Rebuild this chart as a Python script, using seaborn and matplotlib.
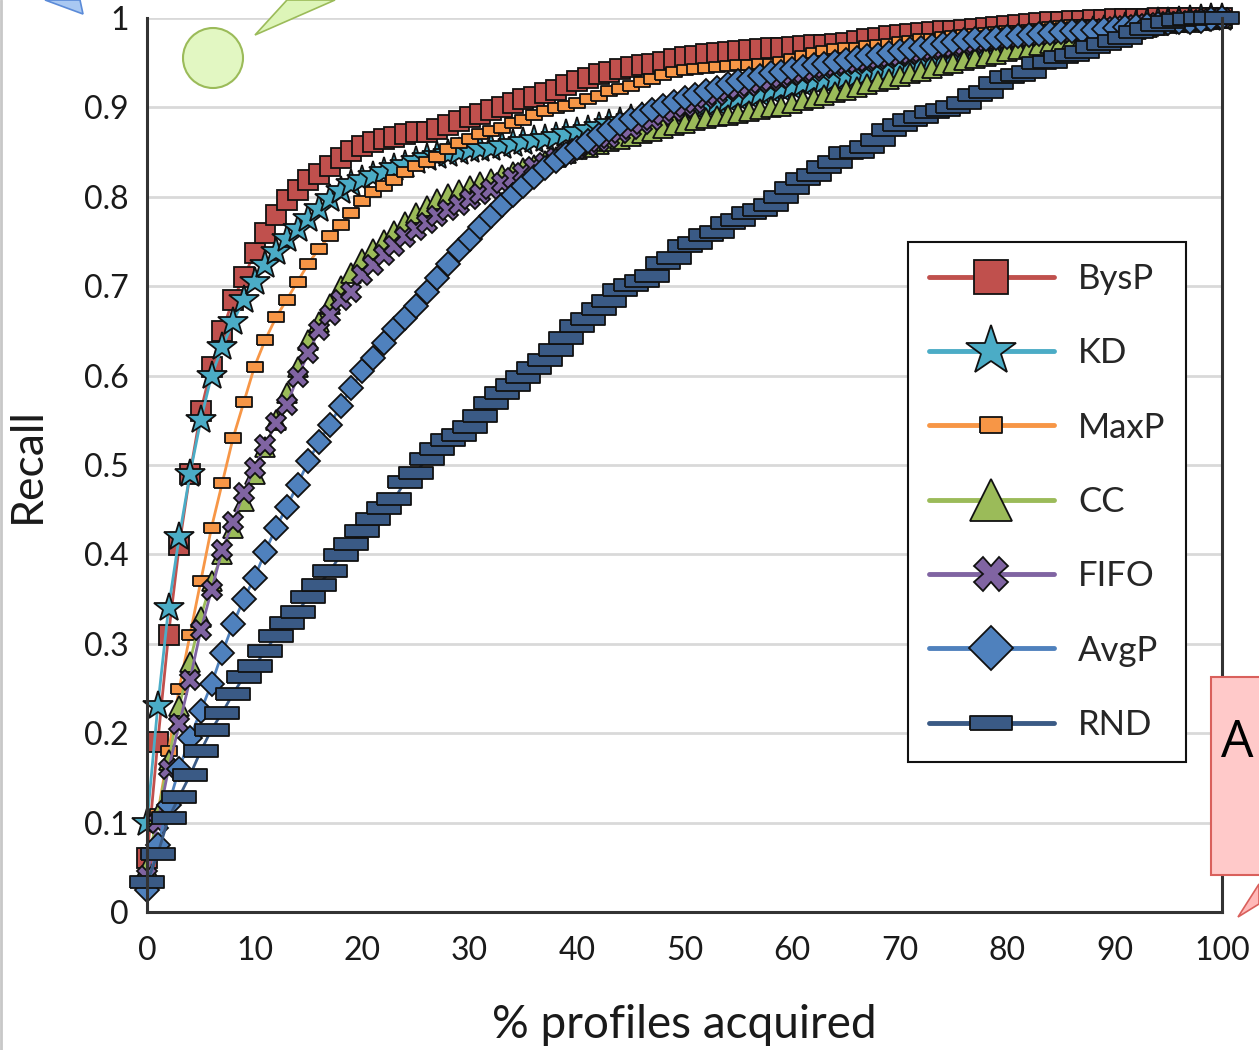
import numpy as np
import pandas as pd
import matplotlib
matplotlib.use("Agg")
import matplotlib.pyplot as plt
import seaborn as sns
from matplotlib.lines import Line2D
from matplotlib.patches import Polygon, Circle, Rectangle

# ---- data (recall vs % profiles acquired) ----
pct = list(range(0, 101))

bysp = [0.06, 0.19, 0.31, 0.41, 0.49, 0.56, 0.61, 0.65, 0.685, 0.71,
        0.737, 0.76, 0.78, 0.796, 0.808, 0.819, 0.826, 0.835, 0.843, 0.851,
        0.857, 0.861, 0.865, 0.867, 0.870, 0.872, 0.873, 0.876, 0.880, 0.885,
        0.889, 0.893, 0.897, 0.901, 0.905, 0.909, 0.912, 0.916, 0.920, 0.925,
        0.929, 0.933, 0.937, 0.940, 0.943, 0.945, 0.947, 0.949, 0.951, 0.954,
        0.956, 0.958, 0.960, 0.961, 0.962, 0.963, 0.964, 0.965, 0.966, 0.967,
        0.968, 0.969, 0.970, 0.970, 0.971, 0.972, 0.974, 0.976, 0.978, 0.980,
        0.981, 0.982, 0.983, 0.984, 0.985, 0.986, 0.987, 0.988, 0.989, 0.990,
        0.991, 0.992, 0.993, 0.994, 0.995, 0.996, 0.997, 0.997, 0.998, 0.998,
        0.999, 0.999, 0.999, 0.999, 1.0, 1.0, 1.0, 1.0, 1.0, 1.0, 1.0]

kd = [0.10, 0.23, 0.34, 0.42, 0.49, 0.55, 0.60, 0.632, 0.66, 0.685,
      0.705, 0.724, 0.738, 0.753, 0.764, 0.775, 0.786, 0.797, 0.806, 0.814,
      0.819, 0.823, 0.828, 0.832, 0.836, 0.840, 0.843, 0.846, 0.848, 0.850,
      0.852, 0.854, 0.855, 0.857, 0.859, 0.861, 0.863, 0.865, 0.867, 0.870,
      0.872, 0.875, 0.878, 0.881, 0.884, 0.887, 0.889, 0.891, 0.894, 0.896,
      0.898, 0.900, 0.903, 0.905, 0.908, 0.910, 0.913, 0.915, 0.918, 0.921,
      0.923, 0.926, 0.928, 0.930, 0.932, 0.934, 0.936, 0.938, 0.941, 0.943,
      0.945, 0.948, 0.950, 0.953, 0.955, 0.958, 0.960, 0.962, 0.965, 0.967,
      0.969, 0.971, 0.973, 0.975, 0.977, 0.979, 0.981, 0.983, 0.985, 0.987,
      0.988, 0.990, 0.992, 0.994, 0.995, 0.996, 0.997, 0.998, 0.999, 1.0, 1.0]

maxp = [0.04, 0.11, 0.18, 0.25, 0.31, 0.37, 0.43, 0.48, 0.53, 0.57,
        0.61, 0.64, 0.665, 0.685, 0.705, 0.725, 0.742, 0.756, 0.768, 0.782,
        0.795, 0.805, 0.812, 0.819, 0.828, 0.834, 0.839, 0.845, 0.853, 0.860,
        0.865, 0.870, 0.874, 0.877, 0.882, 0.886, 0.891, 0.896, 0.899, 0.902,
        0.905, 0.909, 0.913, 0.918, 0.921, 0.924, 0.928, 0.932, 0.936, 0.940,
        0.942, 0.943, 0.944, 0.945, 0.946, 0.947, 0.947, 0.948, 0.949, 0.951,
        0.954, 0.957, 0.961, 0.963, 0.965, 0.966, 0.967, 0.969, 0.970, 0.971,
        0.973, 0.974, 0.976, 0.977, 0.979, 0.980, 0.981, 0.982, 0.983, 0.984,
        0.985, 0.986, 0.987, 0.988, 0.990, 0.991, 0.992, 0.992, 0.992, 0.992,
        0.993, 0.994, 0.996, 0.997, 0.998, 0.998, 0.999, 0.999, 1.0, 1.0, 1.0]

cc = [0.05, 0.11, 0.17, 0.23, 0.28, 0.33, 0.37, 0.40, 0.43, 0.46,
      0.49, 0.52, 0.55, 0.58, 0.61, 0.64, 0.66, 0.68, 0.70, 0.715,
      0.73, 0.742, 0.752, 0.762, 0.772, 0.782, 0.790, 0.797, 0.803, 0.808,
      0.812, 0.816, 0.820, 0.824, 0.828, 0.832, 0.836, 0.840, 0.845, 0.849,
      0.853, 0.856, 0.859, 0.862, 0.865, 0.868, 0.871, 0.874, 0.877, 0.880,
      0.883, 0.886, 0.888, 0.890, 0.892, 0.894, 0.896, 0.898, 0.900, 0.902,
      0.905, 0.908, 0.911, 0.914, 0.917, 0.920, 0.923, 0.926, 0.929, 0.932,
      0.935, 0.938, 0.941, 0.944, 0.947, 0.950, 0.953, 0.955, 0.958, 0.960,
      0.963, 0.965, 0.967, 0.970, 0.972, 0.974, 0.976, 0.978, 0.980, 0.982,
      0.984, 0.986, 0.988, 0.990, 0.992, 0.994, 0.995, 0.996, 0.998, 0.999, 1.0]

fifo = [0.04, 0.10, 0.16, 0.21, 0.26, 0.315, 0.36, 0.405, 0.436, 0.469,
        0.497, 0.522, 0.547, 0.567, 0.598, 0.625, 0.651, 0.668, 0.685, 0.694,
        0.713, 0.724, 0.735, 0.745, 0.755, 0.763, 0.771, 0.778, 0.785, 0.791,
        0.797, 0.803, 0.809, 0.815, 0.821, 0.827, 0.833, 0.838, 0.843, 0.848,
        0.853, 0.857, 0.861, 0.866, 0.871, 0.876, 0.881, 0.886, 0.891, 0.896,
        0.900, 0.905, 0.910, 0.914, 0.918, 0.921, 0.924, 0.927, 0.930, 0.933,
        0.936, 0.939, 0.941, 0.944, 0.946, 0.948, 0.950, 0.952, 0.954, 0.956,
        0.958, 0.960, 0.962, 0.964, 0.966, 0.968, 0.970, 0.972, 0.974, 0.976,
        0.978, 0.979, 0.980, 0.981, 0.982, 0.983, 0.984, 0.985, 0.987, 0.988,
        0.990, 0.991, 0.992, 0.993, 0.994, 0.995, 0.996, 0.997, 0.998, 0.999, 1.0]

avgp = [0.025, 0.075, 0.12, 0.16, 0.195, 0.225, 0.255, 0.29, 0.322, 0.35,
        0.374, 0.403, 0.43, 0.453, 0.478, 0.504, 0.526, 0.545, 0.566, 0.586,
        0.605, 0.62, 0.637, 0.652, 0.664, 0.678, 0.694, 0.709, 0.725, 0.74,
        0.753, 0.766, 0.779, 0.791, 0.802, 0.812, 0.822, 0.832, 0.840, 0.848,
        0.855, 0.862, 0.869, 0.875, 0.881, 0.887, 0.892, 0.897, 0.902, 0.906,
        0.910, 0.914, 0.918, 0.922, 0.926, 0.929, 0.932, 0.935, 0.938, 0.940,
        0.943, 0.945, 0.947, 0.949, 0.951, 0.953, 0.955, 0.957, 0.959, 0.961,
        0.963, 0.965, 0.967, 0.969, 0.971, 0.973, 0.975, 0.976, 0.977, 0.978,
        0.979, 0.980, 0.981, 0.982, 0.983, 0.984, 0.985, 0.986, 0.987, 0.988,
        0.989, 0.990, 0.991, 0.992, 0.993, 0.994, 0.995, 0.996, 0.997, 0.999, 1.0]

rnd = [0.033, 0.065, 0.105, 0.129, 0.153, 0.18, 0.204, 0.223, 0.244, 0.263,
       0.275, 0.292, 0.309, 0.323, 0.336, 0.352, 0.366, 0.381, 0.399, 0.412,
       0.426, 0.44, 0.452, 0.462, 0.481, 0.491, 0.507, 0.518, 0.528, 0.534,
       0.543, 0.555, 0.569, 0.58, 0.589, 0.598, 0.608, 0.617, 0.629, 0.642,
       0.655, 0.663, 0.674, 0.684, 0.696, 0.701, 0.706, 0.711, 0.726, 0.732,
       0.745, 0.748, 0.757, 0.761, 0.771, 0.774, 0.782, 0.785, 0.791, 0.80,
       0.81, 0.82, 0.824, 0.833, 0.839, 0.849, 0.85, 0.856, 0.864, 0.875,
       0.88, 0.886, 0.889, 0.895, 0.897, 0.90, 0.905, 0.914, 0.917, 0.927,
       0.934, 0.936, 0.94, 0.95, 0.951, 0.956, 0.959, 0.962, 0.968, 0.971,
       0.974, 0.978, 0.984, 0.988, 0.992, 0.995, 0.998, 0.999, 1.0, 1.0, 1.0]

series_names = ["BysP", "KD", "MaxP", "CC", "FIFO", "AvgP", "RND"]
series_values = [bysp, kd, maxp, cc, fifo, avgp, rnd]

x_ticks = [0, 10, 20, 30, 40, 50, 60, 70, 80, 90, 100]
y_ticks = [0, 0.1, 0.2, 0.3, 0.4, 0.5, 0.6, 0.7, 0.8, 0.9, 1.0]
y_ticklabels = ["0", "0.1", "0.2", "0.3", "0.4", "0.5", "0.6", "0.7", "0.8", "0.9", "1"]

# ---- styles (Excel 2007 palette) ----
wide_rect = [(-1.5, -0.5), (1.5, -0.5), (1.5, 0.5), (-1.5, 0.5), (-1.5, -0.5)]
small_rect = [(-0.7, -0.5), (0.7, -0.5), (0.7, 0.5), (-0.7, 0.5), (-0.7, -0.5)]
styles = {
    "BysP": dict(color="#C0504D", marker="s", ms=14, leg_ms=24),
    "KD":   dict(color="#4BACC6", marker="*", ms=22, leg_ms=38),
    "MaxP": dict(color="#F79646", marker=small_rect, ms=11, leg_ms=16),
    "CC":   dict(color="#9BBB59", marker="^", ms=15, leg_ms=30),
    "FIFO": dict(color="#8064A2", marker="X", ms=15, leg_ms=24),
    "AvgP": dict(color="#4F81BD", marker="D", ms=12, leg_ms=22),
    "RND":  dict(color="#3A5A85", marker=wide_rect, ms=24, leg_ms=30),
}

sns.set_style("white")
plt.rcParams["font.family"] = ["Lato", "DejaVu Sans"]

W, H = 1259, 1050
fig = plt.figure(figsize=(W / 100, H / 100), dpi=100)
ax = fig.add_axes([147 / W, 1 - 912 / H, (1222 - 147) / W, (912 - 18) / H])

for name, vals in zip(series_names, series_values):
    st = styles[name]
    sns.lineplot(x=pct, y=vals, ax=ax, color=st["color"], linewidth=2.0,
                 marker=st["marker"], markersize=st["ms"], markerfacecolor=st["color"],
                 markeredgecolor="#111111", markeredgewidth=1.3, clip_on=False,
                 legend=False)

ax.set_xlim(0, 100)
ax.set_ylim(0, 1)
ax.set_xticks(x_ticks)
ax.set_xticklabels([str(t) for t in x_ticks])
ax.set_xticks(pct, minor=True)
ax.set_yticks(y_ticks)
ax.set_yticklabels(y_ticklabels)
ax.yaxis.grid(True, color="#D9D9D9", linewidth=2)
ax.xaxis.grid(False)
ax.set_axisbelow(True)

for side in ["left", "bottom", "right"]:
    ax.spines[side].set_visible(True)
    ax.spines[side].set_color("#333333")
    ax.spines[side].set_linewidth(2.2)
ax.spines["top"].set_visible(False)

ax.tick_params(axis="both", which="major", direction="out", length=8, width=2,
               color="#333333", labelsize=23, labelcolor="#1a1a1a", pad=5)
ax.tick_params(axis="x", which="minor", direction="out", length=8, width=1.8,
               color="#333333")
ax.tick_params(axis="x", which="major", pad=9)

ax.set_xlabel("% profiles acquired", fontsize=33, color="#1a1a1a", labelpad=28)
ax.set_ylabel("Recall", fontsize=32, color="#1a1a1a", labelpad=26)

handles = []
for name in series_names:
    st = styles[name]
    handles.append(Line2D([0], [0], color=st["color"], linewidth=3.5,
                          marker=st["marker"], markersize=st["leg_ms"],
                          markerfacecolor=st["color"], markeredgecolor="#111111",
                          markeredgewidth=1.3))
leg = ax.legend(handles, series_names, loc="upper left",
                bbox_to_anchor=(908 / W, 1 - 242 / H), bbox_transform=fig.transFigure,
                borderaxespad=0, frameon=True, fancybox=False, fontsize=25,
                handlelength=3.6, handletextpad=0.7, labelspacing=1.22,
                borderpad=0.6, numpoints=1)
leg.get_frame().set_edgecolor("#111111")
leg.get_frame().set_linewidth(1.5)
leg.get_frame().set_facecolor("white")
leg.get_frame().set_alpha(1)


# ---- partial callout shapes around the chart ----
def fpx(x, y):
    return (x / W, 1 - y / H)


fig.add_artist(Polygon([fpx(45, 0), fpx(80, 0), fpx(83, 14)], closed=True,
                       transform=fig.transFigure, facecolor="#A9C8F2",
                       edgecolor="#5B8BD8", linewidth=1.2))
fig.add_artist(Polygon([fpx(255, 35), fpx(287, 0), fpx(335, 0)], closed=True,
                       transform=fig.transFigure, facecolor="#DDF5B8",
                       edgecolor="#9BBB59", linewidth=1.2))
circ = Circle((213, H - 58), 30, transform=None, facecolor="#E2F7C2",
              edgecolor="#9BBB59", linewidth=1.5)
fig.add_artist(circ)
fig.add_artist(Rectangle(fpx(1211, 875), (1262 - 1211) / W, (875 - 677) / H,
                         transform=fig.transFigure, facecolor="#FFC9C9",
                         edgecolor="#D9605C", linewidth=1.5))
fig.add_artist(Polygon([fpx(1238, 917), fpx(1259, 884), fpx(1259, 904)], closed=True,
                       transform=fig.transFigure, facecolor="#FFB8B8",
                       edgecolor="#D9605C", linewidth=1.2))
fig.text(1221 / W, 1 - 757 / H, "A", fontsize=37, color="black",
         family=["Open Sans", "DejaVu Sans"], ha="left", va="baseline")
fig.add_artist(Line2D([1 / W, 1 / W], [0, 1], transform=fig.transFigure,
                      color="#C8C8C8", linewidth=2))

fig.savefig("out.png", dpi=100)
